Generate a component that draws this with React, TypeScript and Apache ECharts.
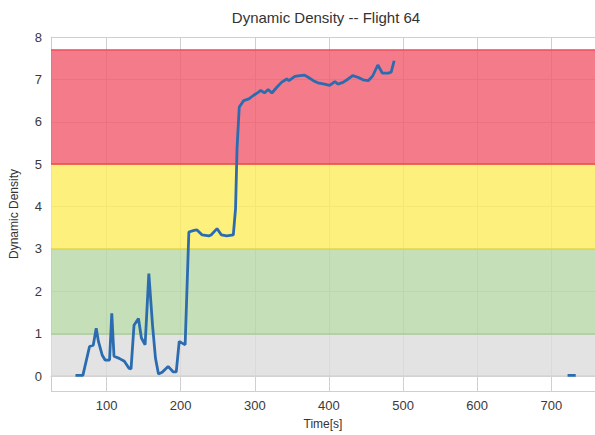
import React, { useEffect, useRef } from "react";
import * as echarts from "echarts";

const titleText = "Dynamic Density -- Flight 64";
const xName = "Time[s]";
const yName = "Dynamic Density";

const times: (number | null)[] = [
  58, 68, 77, 82, 86, 89, 94, 98, 104, 107, 110, 117, 124, 130, 133, 137, 143, 147, 152, 157, 162, 166, 170,
  175, 183, 190, 194, 198, 202, 206, 211, 218, 222, 229, 238, 241, 249, 255, 262, 271, 274, 276, 279, 285,
  292, 298, 305, 308, 313, 318, 323, 330, 336, 343, 346, 354, 361, 367, 372, 379, 385, 394, 401, 408, 412,
  419, 426, 432, 439, 446, 453, 459, 466, 472, 480, 484, 488, null, 722, 733,
];
const density: (number | null)[] = [
  0.02, 0.02, 0.7, 0.73, 1.13, 0.82, 0.5, 0.38, 0.38, 1.48, 0.47, 0.42, 0.35, 0.19, 0.17, 1.2, 1.36, 0.9,
  0.74, 2.42, 1.2, 0.42, 0.05, 0.09, 0.23, 0.1, 0.1, 0.82, 0.78, 0.74, 3.4, 3.44, 3.45, 3.33, 3.31, 3.33,
  3.48, 3.33, 3.31, 3.33, 3.95, 5.36, 6.35, 6.5, 6.54, 6.62, 6.7, 6.74, 6.68, 6.76, 6.68, 6.82, 6.93, 7.01,
  6.97, 7.07, 7.09, 7.1, 7.05, 6.97, 6.92, 6.89, 6.86, 6.95, 6.89, 6.93, 7.01, 7.09, 7.05, 6.99, 6.97, 7.08,
  7.34, 7.15, 7.15, 7.17, 7.44, null, 0.02, 0.02,
];

const bandLows = [0, 1, 3, 5];
const bandHighs = [1, 3, 5, 7.7];
const bandFills = [
  "rgba(220,220,220,0.8)",
  "rgba(182,215,166,0.8)",
  "rgba(252,236,91,0.8)",
  "rgba(241,90,109,0.8)",
];
const edgeValues = [0, 1, 3, 5, 7.7];
const edgeColors = ["#d4d4d4", "#a9cc98", "#e3d64a", "#f2493f", "#f2505e"];

const font = "Liberation Sans, Arial, sans-serif";

export default function App() {
  const ref = useRef<HTMLDivElement>(null);
  useEffect(() => {
    if (!ref.current) return;
    const chart = echarts.init(ref.current, undefined, { renderer: "svg" });
    const data = times.map((t, i) => (t === null ? [null, null] : [t, density[i]]));
    chart.setOption({
      animation: false,
      backgroundColor: "#ffffff",
      title: {
        text: titleText,
        left: 321,
        top: 5,
        textAlign: "center",
        textStyle: { fontFamily: font, fontSize: 15, fontWeight: "normal", color: "#333" },
      },
      grid: { left: 48, top: 37, right: 0, bottom: 42 },
      xAxis: {
        type: "value",
        min: 25,
        max: 759,
        splitNumber: 8,
        name: xName,
        nameLocation: "middle",
        nameGap: 27,
        nameTextStyle: { fontFamily: font, fontSize: 12, color: "#333" },
        axisLine: { show: true, lineStyle: { color: "#cccccc", width: 1 } },
        axisTick: { show: false },
        axisLabel: {
          showMinLabel: false,
          showMaxLabel: false,
          fontFamily: font,
          fontSize: 13,
          color: "#3a3a3a",
          margin: 8,
          formatter: (v: number) => (v % 100 === 0 ? String(v) : ""),
        },
        splitLine: { show: true, lineStyle: { color: "#cfcfcf", width: 1 } },
      },
      yAxis: {
        type: "value",
        min: -0.35,
        max: 8,
        splitNumber: 8,
        name: yName,
        nameLocation: "middle",
        nameGap: 31,
        nameTextStyle: { fontFamily: font, fontSize: 12, color: "#333" },
        axisLine: { show: true, lineStyle: { color: "#cccccc", width: 1 } },
        axisTick: { show: false },
        axisLabel: {
          showMinLabel: false,
          fontFamily: font,
          fontSize: 13,
          color: "#3a3a3a",
          margin: 9,
          formatter: (v: number) => (Number.isInteger(v) ? String(v) : ""),
        },
        splitLine: { show: true, lineStyle: { color: "#cfcfcf", width: 1 } },
      },
      series: [
        {
          type: "line",
          data,
          connectNulls: false,
          showSymbol: false,
          symbol: "none",
          lineStyle: { color: "#2b6cb0", width: 2.8 },
          z: 5,
          markArea: {
            silent: true,
            data: bandLows.map((lo, i) => [
              { yAxis: lo, itemStyle: { color: bandFills[i] } },
              { yAxis: bandHighs[i] },
            ]),
          },
          markLine: {
            silent: true,
            symbol: "none",
            label: { show: false },
            data: edgeValues.map((v, i) => ({ yAxis: v, lineStyle: { color: edgeColors[i], width: 1.5, type: "solid" } })),
          },
        },
      ],
    });
    return () => chart.dispose();
  }, []);
  return <div ref={ref} style={{ position: "fixed", left: 0, top: 0, width: 595, height: 435 }} />;
}
